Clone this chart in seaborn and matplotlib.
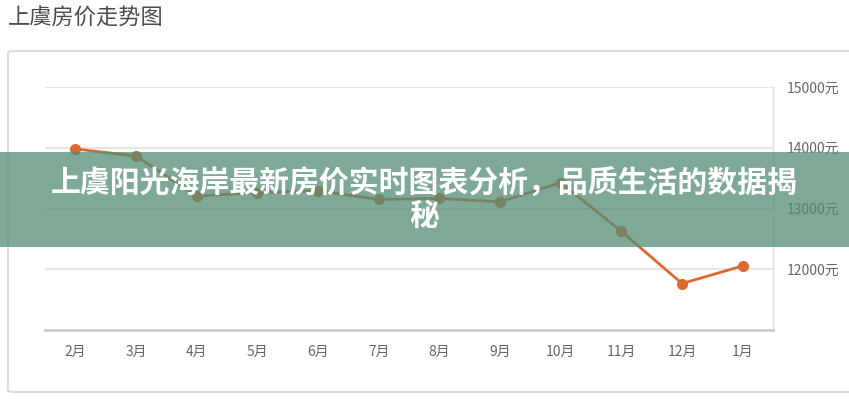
import matplotlib
matplotlib.use("Agg")
import matplotlib.pyplot as plt
from matplotlib.patches import FancyBboxPatch, Rectangle
import pandas as pd
import seaborn as sns

months = ["2月", "3月", "4月", "5月", "6月", "7月", "8月", "9月", "10月", "11月", "12月", "1月"]
prices = [13980, 13865, 13205, 13260, 13290, 13150, 13165, 13110, 13425, 12625, 11765, 12055]
y_ticks = [12000, 13000, 14000, 15000]
y_labels = [f"{v}元" for v in y_ticks]

chart_title = "上虞房价走势图"
banner_text = "上虞阳光海岸最新房价实时图表分析，品质生活的数据揭\n秘"

sns.set_style("white")
plt.rcParams["font.family"] = ["Noto Sans CJK SC", "DejaVu Sans"]

LINE_COLOR = "#dc6a2f"
GRID_COLOR = "#e6e6e6"
TEXT_GREY = "#666666"

df = pd.DataFrame({"month": months, "price": prices})

fig = plt.figure(figsize=(8.49, 4.0), dpi=100)
fig.patch.set_facecolor("white")

# outer card, behind the axes
card = FancyBboxPatch((8 / 849, 8 / 400), 860 / 849, 341 / 400,
                      boxstyle="round,pad=0,rounding_size=0.006",
                      transform=fig.transFigure, facecolor="white",
                      edgecolor="#dddddd", linewidth=1.5, zorder=-1)
fig.patches.append(card)

fig.text(8 / 849, 1 - 18 / 400, chart_title, fontsize=16, color="#4d4d4d",
         ha="left", va="center")

ax = fig.add_axes([45 / 849, 70 / 400, 728 / 849, 243 / 400])
ax.set_zorder(1)
ax.set_facecolor("none")

sns.lineplot(data=df, x="month", y="price", ax=ax, sort=False,
             color=LINE_COLOR, linewidth=2, marker="o", markersize=8,
             markeredgewidth=0, zorder=3)

ax.set_xlim(-0.5, len(months) - 0.5)
ax.set_ylim(11000, 15000)
ax.set_xlabel("")
ax.set_ylabel("")

for v in y_ticks:
    ax.axhline(v, color=GRID_COLOR, linewidth=1.5, zorder=1)

ax.yaxis.tick_right()
ax.set_yticks(y_ticks)
ax.set_yticklabels(y_labels)
ax.tick_params(axis="y", length=0, pad=10, labelsize=10, labelcolor=TEXT_GREY)
ax.tick_params(axis="x", length=4, width=1, color="#cccccc", pad=7,
               labelsize=10, labelcolor=TEXT_GREY)

for side in ["top", "left"]:
    ax.spines[side].set_visible(False)
ax.spines["right"].set_color("#e0e0e0")
ax.spines["right"].set_linewidth(1)
ax.spines["bottom"].set_color("#cccccc")
ax.spines["bottom"].set_linewidth(2)

# banner overlay on top of everything
banner = Rectangle((0, 1 - 247 / 400), 1, 95 / 400, transform=fig.transFigure,
                   facecolor="#548d75", alpha=0.75, edgecolor="none", zorder=10)
fig.patches.append(banner)
fig.text(0.5, 1 - 200 / 400, banner_text, fontsize=21.5, fontweight="heavy",
         color="white", ha="center", va="center", linespacing=1.1, zorder=11)

fig.savefig("out.png", dpi=100)
